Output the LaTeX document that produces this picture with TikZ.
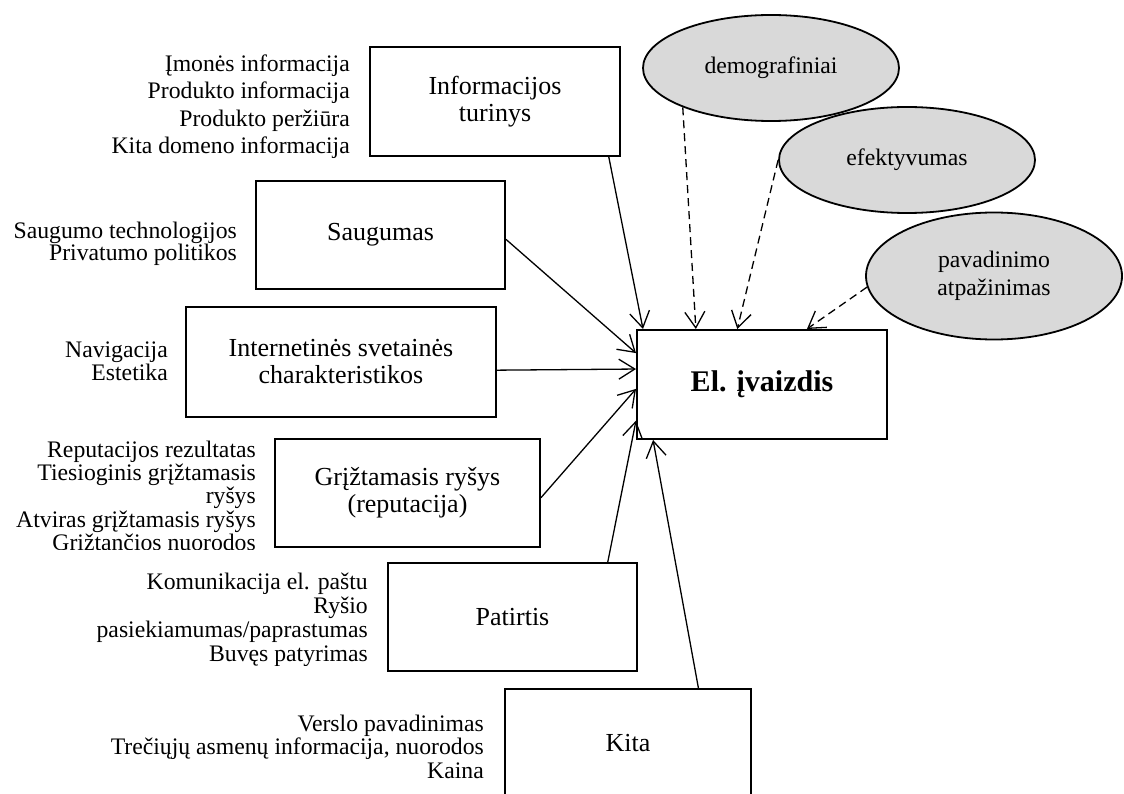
\documentclass[tikz,border=0pt]{standalone}
\usepackage{fontspec}
\setmainfont{Liberation Serif}
\usetikzlibrary{arrows.meta,shapes.geometric}
\definecolor{ovalgray}{HTML}{D9D9D9}

\begin{document}
\begin{tikzpicture}[x=1pt,y=-1pt,
  box/.style={draw,line width=2pt,inner sep=0,align=center,font=\fontsize{26}{27}\selectfont},
  lst/.style={anchor=east,inner sep=0,align=right,font=\fontsize{23.7}{23.2}\selectfont},
  oval/.style={ellipse,draw,line width=1.8pt,fill=ovalgray,inner sep=0,minimum width=256pt,minimum height=106pt,align=center,font=\fontsize{23.7}{28}\selectfont},
  arr/.style={line width=1.3pt,-{Straight Barb[length=16pt,width=20pt]}},
  darr/.style={arr,dash pattern=on 8pt off 5pt}]
\fill[white] (0,0) rectangle (1124,794);
\clip (0,0) rectangle (1124,794);

\node[box,minimum width=250pt,minimum height=109pt] (info) at (495,101.5) {Informacijos\\turinys};
\node[box,minimum width=249pt,minimum height=108pt] (saug) at (380.5,235) {Saugumas};
\node[box,minimum width=310pt,minimum height=110pt] (web) at (341,362) {Internetinės svetainės\\charakteristikos};
\node[box,minimum width=265pt,minimum height=108pt] (fb) at (407.5,493) {Grįžtamasis ryšys\\(reputacija)};
\node[box,minimum width=249pt,minimum height=108pt] (exp) at (512.5,617) {Patirtis};
\node[box,minimum width=246pt,minimum height=108pt] (kita) at (628,743) {Kita};
\node[box,minimum width=250pt,minimum height=109pt,font=\bfseries\fontsize{30}{30}\selectfont] (el) at (762,384.5) {El. įvaizdis};

\node[oval] (demo) at (771,68) {demografiniai};
\node[oval] (efek) at (907,160) {efektyvumas};
\node[oval,minimum height=127pt] (pava) at (994,276) {pavadinimo\\atpažinimas};

\node[lst,font=\fontsize{23.7}{27.5}\selectfont] (infol) at (350,106.5) {Įmonės informacija\\Produkto informacija\\Produkto peržiūra\\Kita domeno informacija};
\node[lst,font=\fontsize{23.7}{22.5}\selectfont] (saugl) at (237,244) {Saugumo technologijos\\Privatumo politikos};
\node[lst,font=\fontsize{23.7}{21}\selectfont] (webl) at (168,361) {Navigacija\\Estetika};
\begin{scope}
\clip (0,400) rectangle (270,549);
\node[lst] (fbl) at (256,498) {Reputacijos rezultatas\\Tiesioginis grįžtamasis\\ryšys\\Atviras grįžtamasis ryšys\\Grįžtančios nuorodos};
\end{scope}
\begin{scope}
\clip (0,560) rectangle (380,665);
\node[lst,font=\fontsize{23.7}{24}\selectfont] (expl) at (368,620) {Komunikacija el. paštu\\Ryšio\\pasiekiamumas/paprastumas\\Buvęs patyrimas};
\end{scope}
\node[lst,font=\fontsize{23.7}{23.5}\selectfont] (kital) at (484,746.5) {Verslo pavadinimas\\Trečiųjų asmenų informacija, nuorodos\\Kaina};

\foreach \a/\b/\c in {info/-26.8/155.4, saug/-2.3/166.7, web/-3/173.4, fb/-2.2/182.5, exp/30.8/196.7, kita/38.5/207.65}
  \draw[arr] (\a.\b) -- (el.\c);
\foreach \a/\b/\c in {demo/204.9/140.5, efek/180/114.6, pava/185.4/51.1}
  \draw[darr] (\a.\b) -- (el.\c);
\end{tikzpicture}
\end{document}
